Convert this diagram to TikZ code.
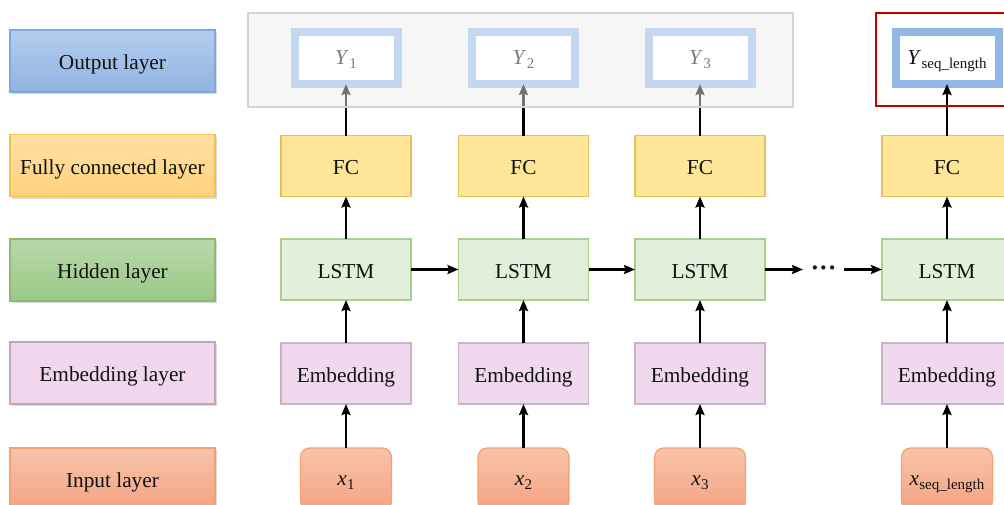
\documentclass[tikz,border=0pt]{standalone}
\usepackage{fontspec}
\setmainfont{Liberation Serif}
\usetikzlibrary{arrows.meta,shadows}

\definecolor{outTop}{HTML}{B3CDEE}
\definecolor{outBot}{HTML}{91B4E2}
\definecolor{outLine}{HTML}{7FA7DA}
\definecolor{fcTop}{HTML}{FFE0A3}
\definecolor{fcBot}{HTML}{FFD27C}
\definecolor{fcLine}{HTML}{F2C14A}
\definecolor{hidTop}{HTML}{B9D8AA}
\definecolor{hidBot}{HTML}{9BC887}
\definecolor{hidLine}{HTML}{88BC6F}
\definecolor{embFill}{HTML}{F0D7EE}
\definecolor{embLine}{HTML}{BBA9BA}
\definecolor{inTop}{HTML}{F8C3AA}
\definecolor{inBot}{HTML}{F4A382}
\definecolor{inLine}{HTML}{F1A270}
\definecolor{fcCell}{HTML}{FFE597}
\definecolor{fcCellLine}{HTML}{E6C05A}
\definecolor{lstmCell}{HTML}{E2EFDA}
\definecolor{lstmCellLine}{HTML}{A7D08C}
\definecolor{embCell}{HTML}{F0D9EF}
\definecolor{embCellLine}{HTML}{C7B5C6}
\definecolor{yLine}{HTML}{93B8E5}
\definecolor{groupBg}{HTML}{F0F0F0}
\definecolor{groupLine}{HTML}{D4D4D4}
\definecolor{lastRed}{HTML}{C00000}
\definecolor{ink}{HTML}{111111}

% variable with a subscript, as in x_1 or Y_seq_length
\newcommand\varsub[2]{\textit{#1}\kern0.3pt\raisebox{-0.4ex}{\fontsize{15}{15}\selectfont #2}}

\begin{document}
\begin{tikzpicture}[x=1pt,y=-1pt,
  font=\fontsize{21.3}{25}\selectfont, text=ink,
  every node/.style={inner sep=0pt, outer sep=0pt, text height=17pt, text depth=0pt},
  lbl/.style={minimum width=205, minimum height=62, line width=1.1pt,
    drop shadow={shadow xshift=2pt, shadow yshift=-2pt, opacity=0.3}},
  cell/.style={minimum width=130, minimum height=61, line width=1.2pt},
  fccell/.style={cell, fill=fcCell, draw=fcCellLine},
  lstmcell/.style={cell, fill=lstmCell, draw=lstmCellLine},
  embcell/.style={cell, fill=embCell, draw=embCellLine},
  incell/.style={minimum width=91, minimum height=62, rounded corners=9pt,
    top color=inTop, bottom color=inBot, draw=inLine, line width=1.2pt,
    text height=13pt},
  ycell/.style={minimum width=103, minimum height=52, fill=white,
    draw=yLine, line width=8pt, text height=13pt},
  arr/.style={line width=2.2pt, draw=black, -{Stealth[length=11pt,width=9pt,inset=1.5pt]}}]

\clip (0,0) rectangle (1004,504);

% row labels
\node[lbl, top color=outTop, bottom color=outBot, draw=outLine] (Lout) at (112.5,61) {Output layer};
\node[lbl, top color=fcTop, bottom color=fcBot, draw=fcLine] (Lfc) at (112.5,165.5) {Fully connected layer};
\node[lbl, top color=hidTop, bottom color=hidBot, draw=hidLine] (Lhid) at (112.5,270) {Hidden layer};
\node[lbl, fill=embFill, draw=embLine] (Lemb) at (112.5,373) {Embedding layer};
\node[lbl, top color=inTop, bottom color=inBot, draw=inLine] (Lin) at (112.5,479) {Input layer};

% background of the grouped outputs
\node[fill=groupBg, minimum width=545, minimum height=94] (outbg) at (520.5,60) {};

% columns
\foreach \i/\cx/\xt/\yt in {1/346/\varsub{x}{1}/\varsub{Y}{1},
                           2/523.5/\varsub{x}{2}/\varsub{Y}{2},
                           3/700/\varsub{x}{3}/\varsub{Y}{3},
                           4/947/\varsub{x}{seq\_length}/\varsub{Y}{seq\_length}} {
  \node[ycell] (y\i) at (\cx,58) {\yt};
  \node[fccell] (fc\i) at (\cx,166) {FC};
  \node[lstmcell] (lstm\i) at (\cx,269.5) {LSTM};
  \node[embcell] (emb\i) at (\cx,373.5) {Embedding};
  \node[incell] (in\i) at (\cx,479) {\xt};
  \draw[arr] (in\i) -- (emb\i);
  \draw[arr] (emb\i) -- (lstm\i);
  \draw[arr] (lstm\i) -- (fc\i);
  \draw[arr] (fc\i) -- (y\i);
}

% recurrent links
\node[minimum width=41, minimum height=20, text height=13pt,
      font=\fontsize{26}{28}\selectfont] (dots) at (823.5,269.5) {\textbf{···}};
\draw[arr] (lstm1) -- (lstm2);
\draw[arr] (lstm2) -- (lstm3);
\draw[arr] (lstm3) -- (dots);
\draw[arr] (dots) -- (lstm4);

% faded group of earlier outputs, and the highlighted last output
\node[fill=white, fill opacity=0.45, draw=groupLine, line width=2pt,
      minimum width=545, minimum height=94] (outgroup) at (520.5,60) {};
\node[draw=lastRed, line width=2.5pt, minimum width=136, minimum height=93] (lastout) at (944,59.5) {};

\end{tikzpicture}
\end{document}
